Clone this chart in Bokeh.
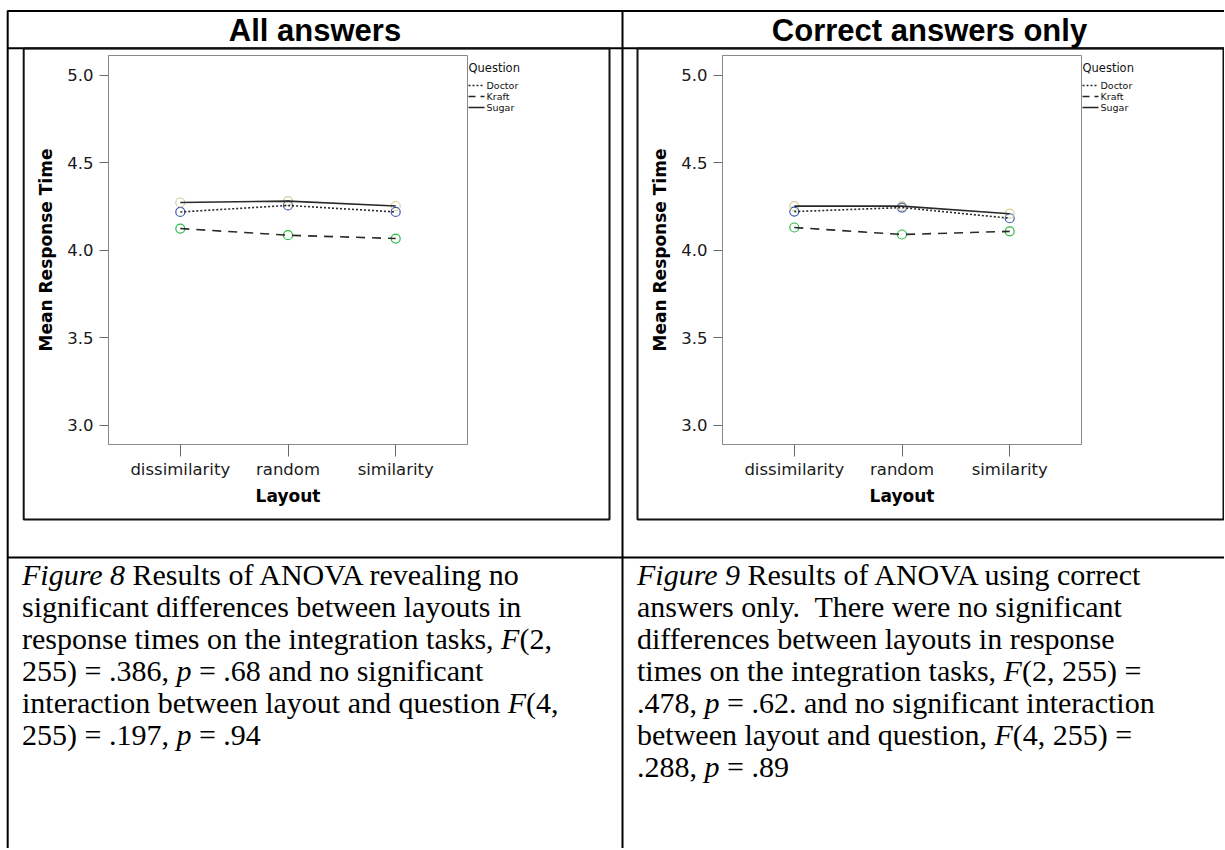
from bokeh.plotting import figure
from bokeh.models import (Range1d, FactorRange, FixedTicker, NumeralTickFormatter,
                          Div, ColumnDataSource, Spacer)
from bokeh.layouts import column, row
from bokeh.embed import file_html
from bokeh.resources import INLINE
from bokeh.core.properties import value

# ---------------- data ----------------
layouts = ["dissimilarity", "random", "similarity"]
questions = ["Doctor", "Kraft", "Sugar"]

all_doctor = [4.220, 4.257, 4.220]
all_kraft = [4.125, 4.087, 4.068]
all_sugar = [4.274, 4.282, 4.254]

cor_doctor = [4.222, 4.245, 4.184]
cor_kraft = [4.131, 4.091, 4.109]
cor_sugar = [4.253, 4.253, 4.210]

y_ticks = [3.0, 3.5, 4.0, 4.5, 5.0]
panel_titles = ["All answers", "Correct answers only"]
y_label = "Mean Response Time"
x_label = "Layout"
legend_title = "Question"

caption_left = [
    "<i>Figure 8</i> Results of ANOVA revealing no",
    "significant differences between layouts in",
    "response times on the integration tasks, <i>F</i>(2,",
    "255) = .386, <i>p</i> = .68 and no significant",
    "interaction between layout and question <i>F</i>(4,",
    "255) = .197, <i>p</i> = .94",
]
caption_right = [
    "<i>Figure 9</i> Results of ANOVA using correct",
    "answers only.&nbsp; There were no significant",
    "differences between layouts in response",
    "times on the integration tasks, <i>F</i>(2, 255) =",
    ".478, <i>p</i> = .62. and no significant interaction",
    "between layout and question, <i>F</i>(4, 255) =",
    ".288, <i>p</i> = .89",
]

marker_colors = ["#3E58AC", "#2EB848", "#D3CE97"]
line_dashes = ["2 2", "9 7", "solid"]
legend_dashes = ["2 2", "7 5", "solid"]

SANS = "DejaVu Sans"

# ---------------- background (table, headers, legends) ----------------
W, H = 1224, 848
bg = figure(width=W, height=H, x_range=Range1d(0, W), y_range=Range1d(H, 0),
            x_axis_type=None, y_axis_type=None, output_backend="svg",
            toolbar_location=None, min_border=0)
bg.outline_line_color = None
bg.grid.visible = False
bg.background_fill_color = "white"
bg.border_fill_color = "white"

bg.segment(x0=[7, 7, 7, 7.2, 622], y0=[10.5, 47.8, 557, 10, 10],
           x1=[1225, 1225, 1225, 7.2, 622], y1=[10.5, 47.8, 557, 850, 850],
           line_color="black", line_width=2)
bg.quad(left=[23.2, 637], right=[609, 1223], top=[48, 48], bottom=[519, 519],
        fill_color=None, line_color="#111111", line_width=2)
bg.text(x=[314.5, 929], y=[30, 30], text=panel_titles, text_align="center",
        text_baseline="middle", text_font=value("Liberation Sans"),
        text_font_style="bold", text_font_size="31px", text_color="black")

# legends ("Question") to the right of each plot area
for ox in (0, 614):
    bg.text(x=[468 + ox], y=[67], text=[legend_title], text_align="left",
            text_baseline="middle", text_font=value(SANS), text_font_size="11.5px",
            text_color="#111111")
    for i, (q, dash) in enumerate(zip(questions, legend_dashes)):
        yy = 85 + 11 * i
        bg.line(x=[468 + ox, 484 + ox], y=[yy, yy], line_color="#222222",
                line_width=1.3, line_dash=dash)
        bg.text(x=[486 + ox], y=[yy], text=[q], text_align="left",
                text_baseline="middle", text_font=value(SANS),
                text_font_size="9.5px", text_color="#111111")


def make_chart(doctor, kraft, sugar, width, border_right):
    p = figure(width=width, height=469,
               x_range=FactorRange(factors=layouts, range_padding=1 / 9,
                                   range_padding_units="percent"),
               y_range=Range1d(2.891, 5.114),
               output_backend="svg", toolbar_location=None,
               min_border_left=84, min_border_right=border_right,
               min_border_top=6, min_border_bottom=74)
    p.background_fill_color = "white"
    p.border_fill_color = None
    p.outline_line_color = "#8a8a8a"
    p.outline_line_width = 1
    p.grid.visible = False

    xa = p.xaxis[0]
    xa.axis_label = x_label
    xa.axis_label_text_font = SANS
    xa.axis_label_text_font_style = "bold"
    xa.axis_label_text_font_size = "17px"
    xa.axis_label_text_color = "black"
    xa.axis_label_standoff = 4
    xa.axis_line_color = "#8a8a8a"
    xa.major_tick_line_color = "#6a6a6a"
    xa.major_tick_out = 12
    xa.major_tick_in = 0
    xa.major_label_standoff = 3
    xa.major_label_text_font = SANS
    xa.major_label_text_font_size = "16.5px"
    xa.major_label_text_color = "#1a1a1a"

    ya = p.yaxis[0]
    ya.ticker = FixedTicker(ticks=y_ticks)
    ya.formatter = NumeralTickFormatter(format="0.0")
    ya.axis_label = y_label
    ya.axis_label_text_font = SANS
    ya.axis_label_text_font_style = "bold"
    ya.axis_label_text_font_size = "17px"
    ya.axis_label_text_color = "black"
    ya.axis_label_standoff = 8
    ya.axis_line_color = "#8a8a8a"
    ya.major_tick_line_color = "#6a6a6a"
    ya.minor_tick_line_color = None
    ya.major_tick_out = 9
    ya.major_tick_in = 0
    ya.major_label_standoff = 6
    ya.major_label_text_font = SANS
    ya.major_label_text_font_size = "16.5px"
    ya.major_label_text_color = "#1a1a1a"

    src = ColumnDataSource(dict(layout=layouts, Doctor=doctor, Kraft=kraft, Sugar=sugar))
    for q, col in zip(questions, marker_colors):
        p.scatter("layout", q, source=src, marker="circle", size=9,
                  fill_color=None, line_color=col, line_width=1.2)
    for q, dash in zip(questions, line_dashes):
        p.line("layout", q, source=src, line_color="#2a2a2a",
               line_width=1.6, line_dash=dash)
    return p


c1 = make_chart(all_doctor, all_kraft, all_sugar, 584, 141)
c2 = make_chart(cor_doctor, cor_kraft, cor_sugar, 584, 141)
charts = row([Spacer(width=24, height=10), c1, Spacer(width=30, height=10), c2],
             margin=(49 - H, 0, 0, 0))

cap_style = {"font-family": "'Liberation Serif', 'Times New Roman', serif",
             "font-size": "30px", "line-height": "32px", "color": "black",
             "white-space": "nowrap"}
d1 = Div(text="<br>".join(caption_left), width=590, height=280,
         styles=cap_style, margin=(0, 0, 0, 22))
d2 = Div(text="<br>".join(caption_right), width=580, height=280,
         styles=cap_style, margin=(0, 0, 0, 25))
caps = row([d1, d2], margin=(41, 0, 0, 0))

page = column([bg, charts, caps])

with open("out.html", "w") as f:
    f.write(file_html(page, INLINE))
